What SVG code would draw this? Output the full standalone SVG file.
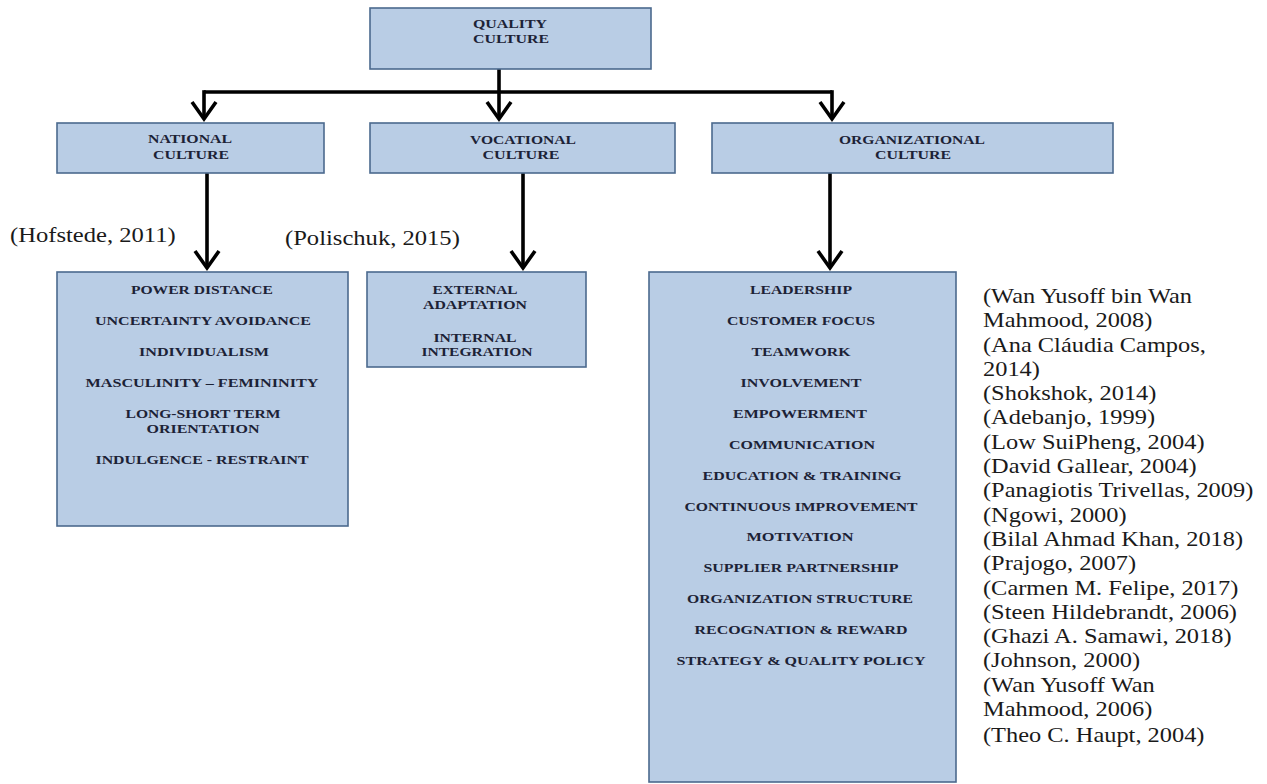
<svg xmlns="http://www.w3.org/2000/svg" width="1267" height="784" viewBox="0 0 1267 784">
<defs>
<style>
.box{fill:#b9cde5;stroke:#4b6a8e;stroke-width:1.6}
.lbl{font-family:"Liberation Serif","Times New Roman",serif;font-weight:bold;font-size:12px;fill:#1c2236;text-anchor:middle}
.cite{font-family:"Liberation Serif","Times New Roman",serif;font-size:20px;fill:#1a1a1a}
.conn{fill:none;stroke:#000;stroke-width:3.6}
</style>
<marker id="arr" markerUnits="userSpaceOnUse" markerWidth="40" markerHeight="40" refX="0" refY="0" orient="auto" overflow="visible">
<path d="M-17,-12 L0,0 L-17,12" fill="none" stroke="#000" stroke-width="3.6" stroke-linejoin="miter"/>
</marker>
</defs>
<rect width="1267" height="784" fill="#fff"/>

<g id="connectors">
<path class="conn" d="M499,68 V92"/>
<path class="conn" d="M204,92 H832"/>
<path class="conn" d="M204,90.2 V119" marker-end="url(#arr)"/>
<path class="conn" d="M499,92 V119" marker-end="url(#arr)"/>
<path class="conn" d="M832,90.2 V119" marker-end="url(#arr)"/>
<path class="conn" d="M207,173 V268" marker-end="url(#arr)"/>
<path class="conn" d="M523,173 V268" marker-end="url(#arr)"/>
<path class="conn" d="M830,173 V268" marker-end="url(#arr)"/>
</g>

<g id="quality-culture">
<rect class="box" x="370" y="8" width="281" height="61"/>
<text class="lbl" x="510" y="28" textLength="74" lengthAdjust="spacingAndGlyphs">QUALITY</text>
<text class="lbl" x="511" y="43" textLength="76" lengthAdjust="spacingAndGlyphs">CULTURE</text>
</g>

<g id="national-culture">
<rect class="box" x="57" y="123" width="267" height="50"/>
<text class="lbl" x="190" y="143" textLength="84" lengthAdjust="spacingAndGlyphs">NATIONAL</text>
<text class="lbl" x="191" y="159" textLength="76" lengthAdjust="spacingAndGlyphs">CULTURE</text>
</g>

<g id="vocational-culture">
<rect class="box" x="370" y="123" width="305" height="50"/>
<text class="lbl" x="523" y="144" textLength="106" lengthAdjust="spacingAndGlyphs">VOCATIONAL</text>
<text class="lbl" x="521" y="159" textLength="77" lengthAdjust="spacingAndGlyphs">CULTURE</text>
</g>

<g id="organizational-culture">
<rect class="box" x="712" y="123" width="401" height="50"/>
<text class="lbl" x="912" y="144" textLength="146" lengthAdjust="spacingAndGlyphs">ORGANIZATIONAL</text>
<text class="lbl" x="913" y="159" textLength="76" lengthAdjust="spacingAndGlyphs">CULTURE</text>
</g>

<g id="national-dimensions">
<rect class="box" x="57" y="272" width="291" height="254"/>
<text class="lbl" x="202" y="294" textLength="142" lengthAdjust="spacingAndGlyphs">POWER DISTANCE</text>
<text class="lbl" x="203" y="325" textLength="216" lengthAdjust="spacingAndGlyphs">UNCERTAINTY AVOIDANCE</text>
<text class="lbl" x="204" y="356" textLength="130" lengthAdjust="spacingAndGlyphs">INDIVIDUALISM</text>
<text class="lbl" x="202" y="387" textLength="233" lengthAdjust="spacingAndGlyphs">MASCULINITY – FEMININITY</text>
<text class="lbl" x="203" y="418" textLength="155" lengthAdjust="spacingAndGlyphs">LONG-SHORT TERM</text>
<text class="lbl" x="203" y="433" textLength="113" lengthAdjust="spacingAndGlyphs">ORIENTATION</text>
<text class="lbl" x="202" y="464" textLength="213" lengthAdjust="spacingAndGlyphs">INDULGENCE - RESTRAINT</text>
</g>

<g id="vocational-dimensions">
<rect class="box" x="367" y="272" width="219" height="95"/>
<text class="lbl" x="475" y="294" textLength="85" lengthAdjust="spacingAndGlyphs">EXTERNAL</text>
<text class="lbl" x="475" y="309" textLength="104" lengthAdjust="spacingAndGlyphs">ADAPTATION</text>
<text class="lbl" x="475" y="342" textLength="83" lengthAdjust="spacingAndGlyphs">INTERNAL</text>
<text class="lbl" x="477" y="356" textLength="111" lengthAdjust="spacingAndGlyphs">INTEGRATION</text>
</g>

<g id="organizational-dimensions">
<rect class="box" x="649" y="272" width="307" height="510"/>
<text class="lbl" x="801" y="294" textLength="102" lengthAdjust="spacingAndGlyphs">LEADERSHIP</text>
<text class="lbl" x="801" y="325" textLength="148" lengthAdjust="spacingAndGlyphs">CUSTOMER FOCUS</text>
<text class="lbl" x="801" y="356" textLength="99" lengthAdjust="spacingAndGlyphs">TEAMWORK</text>
<text class="lbl" x="801" y="387" textLength="121" lengthAdjust="spacingAndGlyphs">INVOLVEMENT</text>
<text class="lbl" x="800" y="418" textLength="134" lengthAdjust="spacingAndGlyphs">EMPOWERMENT</text>
<text class="lbl" x="802" y="449" textLength="146" lengthAdjust="spacingAndGlyphs">COMMUNICATION</text>
<text class="lbl" x="802" y="480" textLength="199" lengthAdjust="spacingAndGlyphs">EDUCATION &amp; TRAINING</text>
<text class="lbl" x="801" y="511" textLength="233" lengthAdjust="spacingAndGlyphs">CONTINUOUS IMPROVEMENT</text>
<text class="lbl" x="800" y="541" textLength="107" lengthAdjust="spacingAndGlyphs">MOTIVATION</text>
<text class="lbl" x="801" y="572" textLength="195" lengthAdjust="spacingAndGlyphs">SUPPLIER PARTNERSHIP</text>
<text class="lbl" x="800" y="603" textLength="226" lengthAdjust="spacingAndGlyphs">ORGANIZATION STRUCTURE</text>
<text class="lbl" x="801" y="634" textLength="213" lengthAdjust="spacingAndGlyphs">RECOGNATION &amp; REWARD</text>
<text class="lbl" x="801" y="665" textLength="249" lengthAdjust="spacingAndGlyphs">STRATEGY &amp; QUALITY POLICY</text>
</g>

<g id="citations-left">
<g transform="translate(10 242) scale(1.23 1)"><text class="cite" x="0" y="0">(Hofstede, 2011)</text></g>
<g transform="translate(285 245) scale(1.23 1)"><text class="cite" x="0" y="0">(Polischuk, 2015)</text></g>
</g>

<g id="citations-right" transform="translate(983 0) scale(1.22 1)">
<text class="cite" x="0" y="303">(Wan Yusoff bin Wan</text>
<text class="cite" x="0" y="327.3">Mahmood, 2008)</text>
<text class="cite" x="0" y="351.6">(Ana Cláudia Campos,</text>
<text class="cite" x="0" y="375.9">2014)</text>
<text class="cite" x="0" y="400.2">(Shokshok, 2014)</text>
<text class="cite" x="0" y="424.5">(Adebanjo, 1999)</text>
<text class="cite" x="0" y="448.8">(Low SuiPheng, 2004)</text>
<text class="cite" x="0" y="473.1">(David Gallear, 2004)</text>
<text class="cite" x="0" y="497.4">(Panagiotis Trivellas, 2009)</text>
<text class="cite" x="0" y="521.7">(Ngowi, 2000)</text>
<text class="cite" x="0" y="546">(Bilal Ahmad Khan, 2018)</text>
<text class="cite" x="0" y="570.3">(Prajogo, 2007)</text>
<text class="cite" x="0" y="594.6">(Carmen M. Felipe, 2017)</text>
<text class="cite" x="0" y="618.9">(Steen Hildebrandt, 2006)</text>
<text class="cite" x="0" y="643.2">(Ghazi A. Samawi, 2018)</text>
<text class="cite" x="0" y="667.5">(Johnson, 2000)</text>
<text class="cite" x="0" y="691.8">(Wan Yusoff Wan</text>
<text class="cite" x="0" y="716.1">Mahmood, 2006)</text>
<text class="cite" x="0" y="742">(Theo C. Haupt, 2004)</text>
</g>
</svg>
